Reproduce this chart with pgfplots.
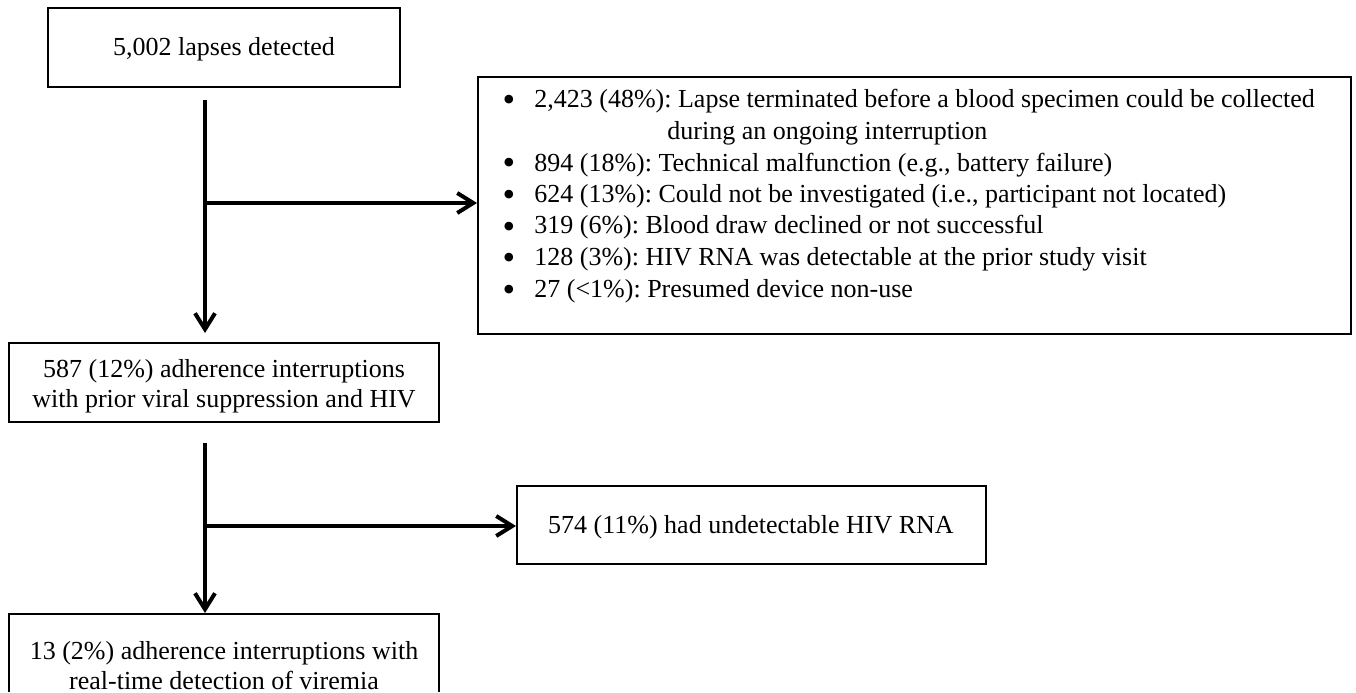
\documentclass[border=0pt]{standalone}
\usepackage{pgfplots}
\pgfplotsset{compat=1.18}
\usepackage{fontspec}
\setmainfont{Liberation Serif}
\usetikzlibrary{arrows.meta}
\tikzset{txt/.style={font=\fontsize{13}{15}\selectfont, inner sep=0pt},
  bul/.style={font=\fontsize{18}{18}\selectfont, inner sep=0pt, anchor=base}}
\begin{document}
\frenchspacing
\begin{tikzpicture}
\begin{axis}[x=0.5pt, y=0.5pt, y dir=reverse, xmin=0, xmax=1356, ymin=0, ymax=692,
  hide axis, clip=false, scale only axis]
% invisible frame to fix the bounding box
\addplot[draw=none] coordinates {(0,0) (1356,692)};
% boxes
\addplot[black, line width=0.75pt, line cap=rect] coordinates {(48,8) (400,8) (400,87) (48,87) (48,8)};
\addplot[black, line width=0.75pt, line cap=rect] coordinates {(478,77) (1351,77) (1351,334) (478,334) (478,77)};
\addplot[black, line width=0.75pt, line cap=rect] coordinates {(9,343) (439,343) (439,422) (9,422) (9,343)};
\addplot[black, line width=0.75pt, line cap=rect] coordinates {(517,486) (986,486) (986,564) (517,564) (517,486)};
\addplot[black, line width=0.75pt] coordinates {(9,692) (9,614) (439,614) (439,692)};
% arrows
\addplot[black, line width=2pt, -{Straight Barb[length=8pt,width=10pt,line width=2pt]}] coordinates {(205,100) (205,333)};
\addplot[black, line width=2pt, -{Straight Barb[length=8pt,width=10pt,line width=2pt]}] coordinates {(205,203) (477,203)};
\addplot[black, line width=2pt, -{Straight Barb[length=8pt,width=10pt,line width=2pt]}] coordinates {(205,443) (205,613)};
\addplot[black, line width=2pt, -{Straight Barb[length=8pt,width=10pt,line width=2pt]}] coordinates {(205,526) (516,526)};
% texts
\node[txt] at (axis cs:224,49) {5,002 lapses detected};
\node[txt, align=center] at (axis cs:224,386) {587 (12\%) adherence interruptions\\with prior viral suppression and HIV};
\node[txt] at (axis cs:751,527) {574 (11\%) had undetectable HIV RNA};
\node[txt, align=center] at (axis cs:224,666) {13 (2\%) adherence interruptions with\\real-time detection of viremia};
% bullet list
\node[bul] at (axis cs:509,112) {\textbullet};
\node[txt, anchor=base west] at (axis cs:534,108) {2,423 (48\%): Lapse terminated before a blood specimen could be collected};
\node[txt, anchor=base west] at (axis cs:667,139.5) {during an ongoing interruption};
\node[bul] at (axis cs:509,175) {\textbullet};
\node[txt, anchor=base west] at (axis cs:534,171) {894 (18\%): Technical malfunction (e.g., battery failure)};
\node[bul] at (axis cs:509,206.5) {\textbullet};
\node[txt, anchor=base west] at (axis cs:534,202.5) {624 (13\%): Could not be investigated (i.e., participant not located)};
\node[bul] at (axis cs:509,238) {\textbullet};
\node[txt, anchor=base west] at (axis cs:534,234) {319 (6\%): Blood draw declined or not successful};
\node[bul] at (axis cs:509,269.5) {\textbullet};
\node[txt, anchor=base west] at (axis cs:534,265.5) {128 (3\%): HIV RNA was detectable at the prior study visit};
\node[bul] at (axis cs:509,301) {\textbullet};
\node[txt, anchor=base west] at (axis cs:534,297) {27 (<1\%): Presumed device non-use};
\end{axis}
\end{tikzpicture}
\end{document}
